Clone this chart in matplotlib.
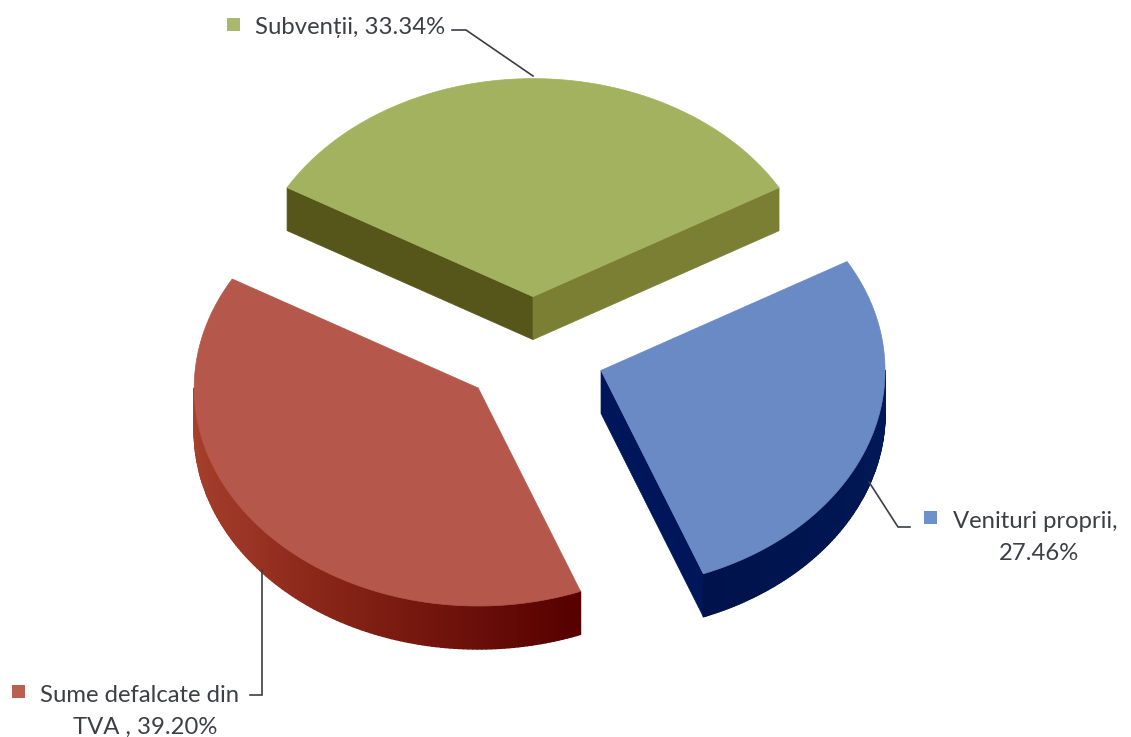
#!/usr/bin/env python3
# Exploded 3D style pie, drawn by hand since matplotlib has no 3D pie
import numpy as np
import matplotlib
matplotlib.use('Agg')
import matplotlib.pyplot as plt
from matplotlib.collections import PolyCollection
from matplotlib.colors import LinearSegmentedColormap
from matplotlib.patches import Polygon, Rectangle

labels = ['Subvenții', 'Venituri proprii', 'Sume defalcate din TVA']
shares = [33.34, 27.46, 39.20]

top_colors = ['#a3b25e', '#6a8ac6', '#b5574a']
key_colors = ['#a9b86c', '#6e90cc', '#b9604f']

# pie geometry in pixels
CX, CY = 533, 352
RX, RY = 284, 218
DEPTH = 43
EXPLODE = 0.254
START = 150.0   # first slice begins here and goes clockwise


def pt(a, cx, cy, r=1.0, dz=0):
    t = np.radians(a)
    return cx + r * RX * np.cos(t), cy - r * RY * np.sin(t) + dz


def arc(a0, a1, cx, cy, dz=0, n=120):
    a = np.linspace(a0, a1, n)
    x, y = pt(a, cx, cy, dz=dz)
    return np.column_stack([x, y])


def band(ax, a0, a1, cx, cy, cmap, n=120):
    # outer rim, split in short strips so the shade can run along it
    up = arc(a0, a1, cx, cy, 0, n + 1)
    dn = arc(a0, a1, cx, cy, DEPTH, n + 1)
    polys = [[up[i], up[i + 1], dn[i + 1], dn[i]] for i in range(n)]
    cols = cmap(np.linspace(0, 1, n))
    ax.add_collection(PolyCollection(polys, facecolors=cols, edgecolors=cols, lw=1.0))


def face(ax, p0, p1, color):
    ax.add_patch(Polygon([p0, p1, (p1[0], p1[1] + DEPTH), (p0[0], p0[1] + DEPTH)],
                         fc=color, ec=color, lw=0.5))


fig = plt.figure(figsize=(11.31, 7.37), dpi=100)
ax = fig.add_axes([0, 0, 1, 1])
ax.set_xlim(0, 1131)
ax.set_ylim(737, 0)
ax.axis('off')

red_rim = LinearSegmentedColormap.from_list('r', ['#a8432f', '#9a3424', '#7a1a10', '#560000'])
blue_rim = LinearSegmentedColormap.from_list('b', ['#00124c', '#001a58'])

# slice edges, clockwise from START
angle = START
for i, (share, col) in enumerate(zip(shares, top_colors)):
    a0 = angle
    a1 = angle - share * 3.6
    angle = a1
    mid = np.radians((a0 + a1) / 2)
    cx = CX + EXPLODE * RX * np.cos(mid)
    cy = CY - EXPLODE * RY * np.sin(mid)
    apex = (cx, cy)
    if i == 0:
        face(ax, apex, pt(a0, cx, cy), '#57561a')
        face(ax, apex, pt(a1, cx, cy), '#7b7f33')
    elif i == 1:
        face(ax, apex, pt(a1, cx, cy), '#00165a')
        band(ax, a1, 0, cx, cy, blue_rim)
    else:
        band(ax, -180, a0, cx, cy, red_rim)
    top = np.vstack([[apex], arc(a0, a1, cx, cy)])
    ax.add_patch(Polygon(top, fc=col, ec=col, lw=0.5))

# leader lines
ln = dict(color='#3a3d42', lw=1.2, solid_joinstyle='miter')
ax.plot([452, 466, 533], [30, 30, 76], **ln)
ax.plot([869, 898, 910], [482, 527, 527], **ln)
ax.plot([262, 262, 250], [570, 695, 695], **ln)

# data labels with their small keys
txt = dict(family='Lato', fontsize=17.2, color='#3c3f45', va='center')
ax.add_patch(Rectangle((227, 18), 13, 13, fc=key_colors[0], ec='none'))
ax.text(255, 27, f'{labels[0]}, {shares[0]:.2f}%', ha='left', **txt)
ax.add_patch(Rectangle((924, 511), 13, 13, fc=key_colors[1], ec='none'))
ax.text(953, 521, f'{labels[1]},', ha='left', **txt)
ax.text(1039, 553, f'{shares[1]:.2f}%', ha='center', **txt)
ax.add_patch(Rectangle((12, 685), 13, 13, fc=key_colors[2], ec='none'))
ax.text(40, 695, 'Sume defalcate din', ha='left', **txt)
ax.text(145, 727, f'TVA , {shares[2]:.2f}%', ha='center', **txt)

fig.savefig('out.png', dpi=100)
